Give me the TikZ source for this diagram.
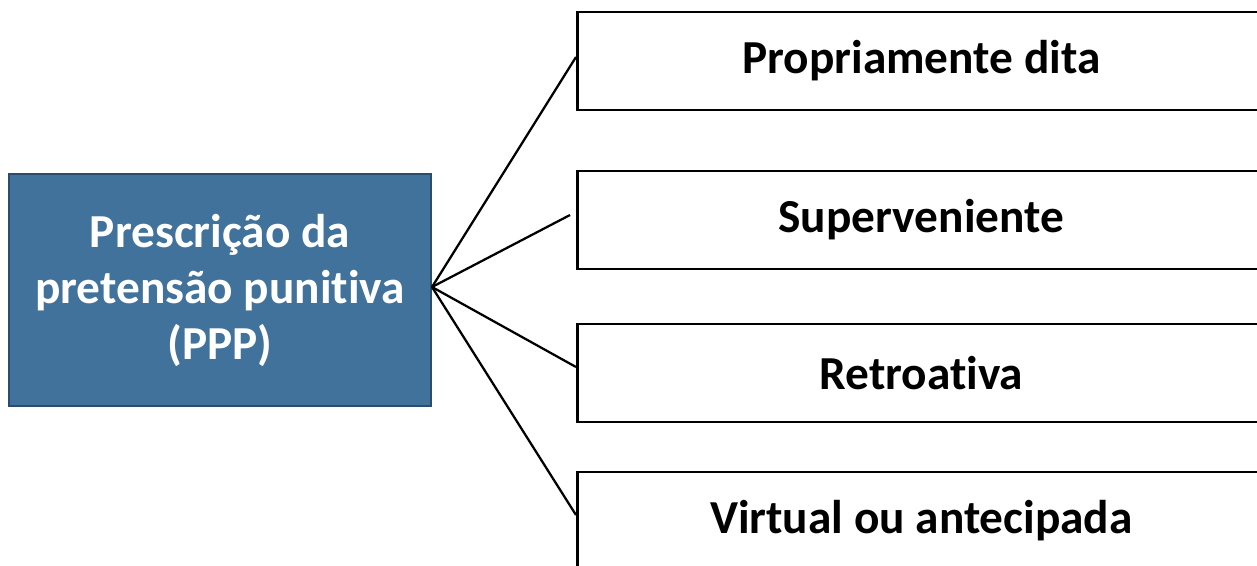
\documentclass[tikz,border=0pt]{standalone}
\usepackage{fontspec}
\setmainfont{Carlito}[Ligatures=NoCommon]
\usetikzlibrary{positioning}

\definecolor{pppblue}{HTML}{41729B}
\definecolor{pppedge}{HTML}{2B4C6B}

\tikzset{
  mainbox/.style={draw=pppedge, line width=1.6pt, fill=pppblue, text=white,
    minimum width=422*0.75pt, minimum height=232*0.75pt, align=center,
    font=\bfseries\fontsize{35.5}{42}\selectfont},
  kindbox/.style={draw=black, line width=2pt, fill=white, anchor=west,
    minimum width=688*0.75pt, minimum height=98*0.75pt,
    font=\bfseries\fontsize{35.5}{42}\selectfont},
  link/.style={line width=1.7pt}
}

\begin{document}
\begin{tikzpicture}[x=0.75pt, y=-0.75pt]

\useasboundingbox (0,0) rectangle (1257,565);
\clip (0,0) rectangle (1257,565);

%\draw[step=100, gray!40] (0,0) grid (1257,565);

\node[mainbox] (ppp) at (220,290) {Prescrição da\\pretensão punitiva\\(PPP)};

	\foreach \i/\y/\t in {1/61/Propriamente dita, 2/220/Superveniente, 3/373/Retroativa, 4/521/Virtual ou antecipada}
		\node[kindbox] (k\i) at (576,\y) {\t}
		;

\coordinate (hub) at (432,287);
\coordinate (loose) at (570,215);

\draw[link] (hub) -- ([yshift=3pt]k1.west);
\draw[link] (hub) -- (loose);
\draw[link] (hub) -- ([yshift=4.5pt]k3.west);
\draw[link] (hub) -- ([yshift=4.5pt]k4.west);

\end{tikzpicture}
\end{document}
